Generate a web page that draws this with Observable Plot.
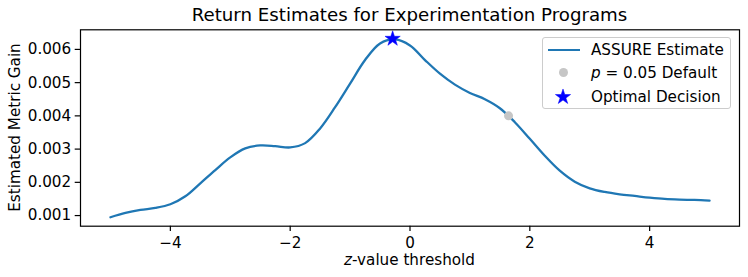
<!DOCTYPE html>
<html><head><meta charset="utf-8">
<script src="https://cdn.jsdelivr.net/npm/d3@7"></script>
<script src="https://cdn.jsdelivr.net/npm/@observablehq/plot@0.6"></script>
<style>
body{margin:0;background:#fff;font-family:"DejaVu Sans",sans-serif;}
#wrap{position:relative;width:748px;height:277px;overflow:hidden;}
#title{height:25px;width:659px;padding-left:80px;text-align:center;font-size:18.2px;line-height:29.4px;white-space:nowrap;color:#000;}
#legend{position:absolute;left:541.7px;top:37.3px;width:187px;height:70px;border:1px solid #cccccc;border-radius:3px;background:rgba(255,255,255,0.8);font-size:15.2px;color:#000;}
#legend .t{position:absolute;left:48.3px;line-height:16px;white-space:nowrap;}
#legend .sym{position:absolute;}
</style></head>
<body>
<div id="wrap">
  <div id="title">Return Estimates for Experimentation Programs</div>
  <div id="chart"></div>
  <div id="legend"></div>
</div>
<script>
// z-value thresholds and estimated metric gain
const zValues = [-5.0,-4.75,-4.5,-4.25,-4.0,-3.75,-3.5,-3.25,-3.0,-2.75,-2.5,-2.25,-2.0,-1.75,-1.5,-1.25,-1.0,-0.75,-0.5,-0.25,0.0,0.25,0.5,0.75,1.0,1.25,1.5,1.75,2.0,2.25,2.5,2.75,3.0,3.25,3.5,3.75,4.0,4.25,4.5,4.75,5.0];
const gainValues = [0.00095,0.00108,0.00117,0.00123,0.00134,0.00158,0.00197,0.00237,0.00275,0.00302,0.00311,0.00309,0.00305,0.00318,0.00362,0.00426,0.00497,0.00568,0.00618,0.00630,0.00612,0.00568,0.00527,0.00494,0.00469,0.00450,0.00423,0.00381,0.00331,0.00280,0.00235,0.00202,0.00182,0.00171,0.00164,0.00159,0.00154,0.00150,0.00148,0.00147,0.00145];
const defaultZ = [1.645];
const defaultGain = [0.00400];
const optimalZ = [-0.29];
const optimalGain = [0.00632];
const xTicks = [-4,-2,0,2,4];
const yTicks = [0.001,0.002,0.003,0.004,0.005,0.006];
const seriesNames = ["ASSURE Estimate","p = 0.05 Default","Optimal Decision"];

const lineColor = "#1f77b4";
const dotColor = "#c6c6c6";
const starColor = "#0000ff";
const fs = "15.2px";

const curveData = zValues.map((z,i)=>({z, gain: gainValues[i]}));
const defaultData = defaultZ.map((z,i)=>({z, gain: defaultGain[i]}));
const optimalData = optimalZ.map((z,i)=>({z, gain: optimalGain[i]}));

const plot = Plot.plot({
  width: 748, height: 252,
  marginTop: 4.3, marginBottom: 51.3, marginLeft: 80, marginRight: 9,
  style: {background: "transparent", fontFamily: "DejaVu Sans", fontSize: fs, color: "black", overflow: "visible"},
  x: {domain: [-5.5, 5.5]},
  y: {domain: [0.00068, 0.00659]},
  marks: [
    Plot.axisX({ticks: xTicks, tickSize: 5.3, tickPadding: 5.5, tickFormat: d3.format("d"), label: null, strokeWidth: 1.2}),
    Plot.axisY({ticks: yTicks, tickSize: 5.3, tickPadding: 4, tickFormat: d3.format(".3f"), label: null, strokeWidth: 1.2}),
    Plot.line(curveData, {x: "z", y: "gain", stroke: lineColor, strokeWidth: 2.3, curve: "catmull-rom"}),
    Plot.dot(defaultData, {x: "z", y: "gain", fill: dotColor, r: 4.5}),
    Plot.dot(optimalData, {x: "z", y: "gain", symbol: "star", fill: starColor, stroke: starColor, strokeWidth: 0.5, r: 4.8}),
    Plot.frame({stroke: "black", strokeWidth: 1.2})
  ]
});
document.getElementById("chart").appendChild(plot);

// axis titles
const svg = d3.select(plot);
const xr = plot.scale("x").range;
const yr = plot.scale("y").range;
const xl = svg.append("text")
  .attr("x", (xr[0]+xr[1])/2).attr("y", 240)
  .attr("text-anchor", "middle").attr("fill", "black").attr("font-size", fs);
xl.append("tspan").attr("font-style", "italic").text("z");
xl.append("tspan").text("-value threshold");
svg.append("text")
  .attr("transform", `translate(20,${(yr[0]+yr[1])/2}) rotate(-90)`)
  .attr("text-anchor", "middle").attr("fill", "black").attr("font-size", fs)
  .text("Estimated Metric Gain");

// legend
const legend = d3.select("#legend");
legend.append("div").attr("class","sym")
  .style("left","5px").style("top","10.3px").style("width","32px").style("height","0")
  .style("border-top", `2.3px solid ${lineColor}`);
legend.append("div").attr("class","sym")
  .style("left","15.9px").style("top","30.1px").style("width","9px").style("height","9px")
  .style("border-radius","50%").style("background", dotColor);
const starSvg = legend.append("svg").attr("class","sym")
  .style("left","11.5px").style("top","49.4px").attr("width",18).attr("height",18);
starSvg.append("path").attr("transform","translate(9,9)")
  .attr("d", d3.symbol(d3.symbolStar, 4.8*4.8*Math.PI)())
  .attr("fill", starColor).attr("stroke", starColor).attr("stroke-width", 0.5);
legend.append("div").attr("class","t").style("top","3.4px").text(seriesNames[0]);
const t2 = legend.append("div").attr("class","t").style("top","26.4px");
t2.append("i").text("p");
t2.append("span").text(" = 0.05 Default");
legend.append("div").attr("class","t").style("top","50.4px").text(seriesNames[2]);
</script>
</body></html>
